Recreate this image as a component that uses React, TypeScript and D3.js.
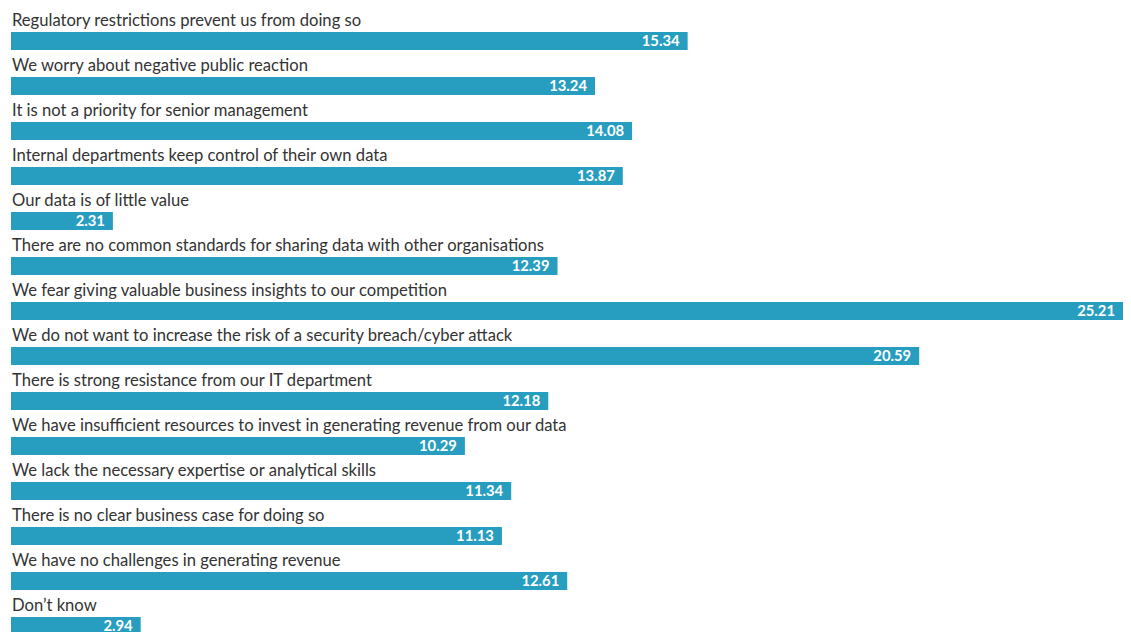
import React from "react";
import * as d3 from "d3";

const categories: string[] = [
  "Regulatory restrictions prevent us from doing so",
  "We worry about negative public reaction",
  "It is not a priority for senior management",
  "Internal departments keep control of their own data",
  "Our data is of little value",
  "There are no common standards for sharing data with other organisations",
  "We fear giving valuable business insights to our competition",
  "We do not want to increase the risk of a security breach/cyber attack",
  "There is strong resistance from our IT department",
  "We have insufficient resources to invest in generating revenue from our data",
  "We lack the necessary expertise or analytical skills",
  "There is no clear business case for doing so",
  "We have no challenges in generating revenue",
  "Don\u2019t know",
];

const values: number[] = [
  15.34, 13.24, 14.08, 13.87, 2.31, 12.39, 25.21, 20.59, 12.18, 10.29, 11.34,
  11.13, 12.61, 2.94,
];

const W = 1131;
const H = 632;

export default function App() {
  const x = d3
    .scaleLinear()
    .domain([0, d3.max(values) as number])
    .range([11, 1123]);
  const y = d3
    .scaleBand<number>()
    .domain(d3.range(categories.length))
    .range([32, 32 + 45 * categories.length])
    .paddingInner(0);
  const barH = 18;

  return (
    <svg
      width={W}
      height={H}
      style={{ position: "absolute", left: 0, top: 0, display: "block" }}
    >
      <rect width={W} height={H} fill="#ffffff" />
      {categories.map((c, i) => {
        const top = y(i) as number;
        return (
          <g key={i}>
            <text
              x={12}
              y={top - 6}
              fontFamily="Lato, 'Open Sans', sans-serif"
              fontSize={16.6}
              fill="#333333"
            >
              {c}
            </text>
            <rect
              x={x(0)}
              y={top}
              width={x(values[i]) - x(0)}
              height={barH}
              fill="#279ebf"
            />
            <text
              x={x(values[i]) - 8}
              y={top + 14}
              textAnchor="end"
              fontFamily="Lato, 'Open Sans', sans-serif"
              fontSize={14.8}
              fontWeight="bold"
              fill="#ffffff"
            >
              {values[i].toFixed(2)}
            </text>
          </g>
        );
      })}
    </svg>
  );
}
